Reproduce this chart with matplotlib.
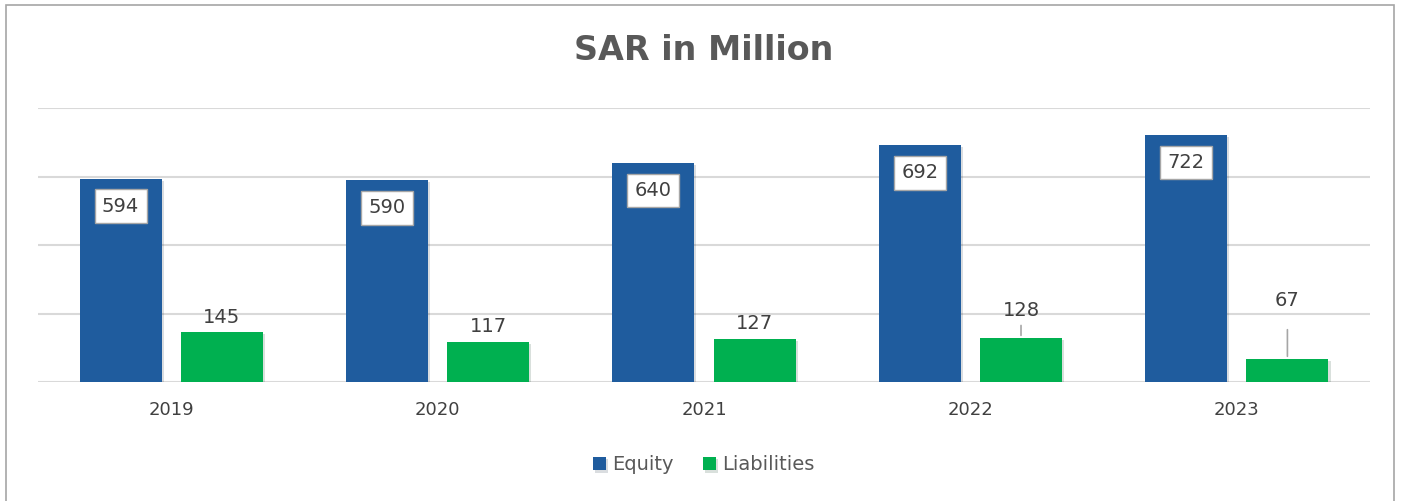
import matplotlib.pyplot as plt
import matplotlib.patheffects as pe
from matplotlib.patches import Rectangle
import numpy as np

# данные с картинки
years = ["2019", "2020", "2021", "2022", "2023"]
equity = [594, 590, 640, 692, 722]
liabilities = [145, 117, 127, 128, 67]

# сдвиг подписей обязательств вверх (в пунктах), у 2022 и 2023 есть выноски
label_lift = [11, 11, 11, 20, 42]

blue = "#1F5C9E"
green = "#00B050"
text_col = "#595959"
num_col = "#404040"

fig = plt.figure(figsize=(14.07, 5.01), dpi=100)
ax = fig.add_axes([0.027, 0.2375, 0.9467, 0.5469])

x = np.arange(len(years))
w = 0.308
shadow = [pe.SimplePatchShadow(offset=(1.5, -1.5), alpha=0.15), pe.Normal()]
ax.bar(x - 0.19, equity, w, color=blue, label="Equity", zorder=3, path_effects=shadow)
ax.bar(x + 0.19, liabilities, w, color=green, label="Liabilities", zorder=3, path_effects=shadow)

# подписи собственного капитала - в белых рамках внутри столбцов
for xi, v in zip(x, equity):
    ax.annotate(str(v), (xi - 0.19, v), xytext=(0, -20), textcoords="offset points",
                ha="center", va="center", fontsize=14, color=num_col, zorder=5,
                bbox=dict(boxstyle="square,pad=0.38", fc="white", ec="#A6A6A6", lw=1))

# подписи обязательств - над столбцами
for xi, v, lift in zip(x, liabilities, label_lift):
    arrow = None
    if lift > 15:
        gap = 2 if lift < 30 else 12
        arrow = dict(arrowstyle="-", color="#A6A6A6", lw=1.2, shrinkA=gap, shrinkB=2)
    ax.annotate(str(v), (xi + 0.19, v), xytext=(0, lift), textcoords="offset points",
                ha="center", va="center", fontsize=14, color=num_col, zorder=5,
                arrowprops=arrow)

ax.set_xlim(-0.5, 4.5)
ax.set_ylim(0, 800)
ax.set_yticks([0, 200, 400, 600, 800])
ax.yaxis.grid(True, color="#D9D9D9", lw=1.5, zorder=0)
ax.tick_params(axis="y", left=False, labelleft=False)
ax.tick_params(axis="x", length=0, labelsize=13, labelcolor=num_col, pad=14)
ax.set_xticks(x)
ax.set_xticklabels(years)
for s in ax.spines.values():
    s.set_visible(False)

fig.text(0.5, 0.9, "SAR in Million", ha="center", va="center", fontsize=24,
         fontweight="bold", color=text_col)

fig.legend(loc="center", bbox_to_anchor=(0.5, 0.072), ncol=2, frameon=False,
           fontsize=14, labelcolor=text_col, handlelength=0.7, handleheight=0.7,
           handletextpad=0.3, columnspacing=1.5)

# рамка вокруг рисунка
fig.patches.append(Rectangle((0.004, -0.1), 0.987, 1.09, transform=fig.transFigure,
                             fill=False, ec="#A6A6A6", lw=1.2))

fig.savefig("out.png", dpi=100)
